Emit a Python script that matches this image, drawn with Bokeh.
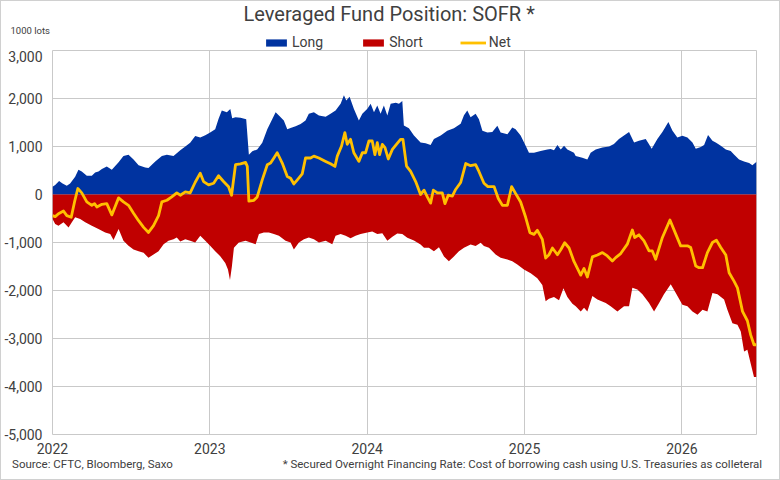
from bokeh.plotting import figure
from bokeh.layouts import column
from bokeh.models import (FixedTicker, NumeralTickFormatter, Legend, LegendItem,
                          Range1d, ColumnDataSource, Title, LinearAxis,
                          InlineStyleSheet)
from bokeh.embed import file_html
from bokeh.resources import INLINE

# Leveraged fund positioning in SOFR futures, thousand lots.
# Dates are given as fractional years.
LONG_T = [2022.000, 2022.017, 2022.042, 2022.064, 2022.091, 2022.112, 2022.144, 2022.165, 2022.186, 2022.218,
          2022.250, 2022.271, 2022.292, 2022.314, 2022.345, 2022.377, 2022.420, 2022.451, 2022.483, 2022.515,
          2022.547, 2022.589, 2022.610, 2022.653, 2022.695, 2022.727, 2022.769, 2022.812, 2022.844, 2022.875,
          2022.907, 2022.939, 2022.971, 2023.002, 2023.034, 2023.055, 2023.076, 2023.108, 2023.130, 2023.142,
          2023.163, 2023.195, 2023.231, 2023.248, 2023.270, 2023.301, 2023.333, 2023.365, 2023.397, 2023.418,
          2023.439, 2023.470, 2023.492, 2023.513, 2023.545, 2023.577, 2023.608, 2023.629, 2023.661, 2023.693,
          2023.736, 2023.767, 2023.799, 2023.831, 2023.852, 2023.867, 2023.888, 2023.915, 2023.947, 2023.969,
          2024.001, 2024.022, 2024.043, 2024.064, 2024.085, 2024.106, 2024.128, 2024.149, 2024.181, 2024.202,
          2024.223, 2024.233, 2024.265, 2024.297, 2024.339, 2024.371, 2024.403, 2024.424, 2024.467, 2024.509,
          2024.551, 2024.594, 2024.615, 2024.636, 2024.657, 2024.689, 2024.710, 2024.732, 2024.764, 2024.795,
          2024.827, 2024.848, 2024.891, 2024.922, 2024.943, 2024.975, 2025.007, 2025.028, 2025.060, 2025.102,
          2025.145, 2025.166, 2025.187, 2025.209, 2025.230, 2025.251, 2025.272, 2025.314, 2025.325, 2025.367,
          2025.399, 2025.420, 2025.452, 2025.495, 2025.537, 2025.568, 2025.600, 2025.632, 2025.664, 2025.696,
          2025.727, 2025.770, 2025.787, 2025.808, 2025.844, 2025.876, 2025.914, 2025.940, 2025.971, 2026.003,
          2026.035, 2026.067, 2026.088, 2026.120, 2026.141, 2026.166, 2026.194, 2026.215, 2026.247, 2026.279,
          2026.310, 2026.331, 2026.363, 2026.395, 2026.427, 2026.448, 2026.474]
LONG_V = [160, 200, 280, 230, 180, 230, 370, 515, 480, 390,
          390, 460, 480, 530, 585, 515, 670, 800, 830, 730,
          610, 565, 550, 690, 800, 830, 800, 920, 1000, 1080,
          1220, 1190, 1235, 1290, 1360, 1575, 1750, 1715, 1780, 1590,
          1610, 1600, 1570, 830, 900, 940, 1080, 1360, 1575, 1715,
          1645, 1540, 1360, 1385, 1420, 1470, 1540, 1680, 1715, 1645,
          1620, 1680, 1750, 1890, 2070, 1960, 2035, 1785, 1540, 1680,
          1785, 1890, 1715, 1855, 1680, 1855, 1645, 1890, 1910, 1890,
          1950, 1440, 1380, 1230, 1085, 1070, 1030, 1155, 1230, 1330,
          1380, 1475, 1650, 1750, 1610, 1680, 1570, 1330, 1290, 1300,
          1430, 1290, 1255, 1395, 1360, 1230, 1015, 870, 870, 905,
          940, 950, 920, 1030, 940, 1015, 940, 870, 800, 765,
          730, 870, 940, 980, 1000, 1050, 1155, 1230, 1300, 1085,
          1120, 1155, 1070, 955, 1155, 1300, 1510, 1330, 1190, 1225,
          1190, 1085, 955, 990, 1030, 1240, 1120, 1085, 1015, 940,
          905, 835, 730, 690, 655, 610, 680]

SHORT_T = [2022.000, 2022.017, 2022.038, 2022.070, 2022.102, 2022.123, 2022.144, 2022.176, 2022.208, 2022.250,
           2022.292, 2022.335, 2022.367, 2022.388, 2022.420, 2022.451, 2022.483, 2022.515, 2022.547, 2022.579,
           2022.610, 2022.642, 2022.674, 2022.706, 2022.737, 2022.769, 2022.790, 2022.812, 2022.844, 2022.875,
           2022.907, 2022.939, 2022.971, 2023.002, 2023.034, 2023.066, 2023.098, 2023.115, 2023.128, 2023.140,
           2023.153, 2023.184, 2023.227, 2023.259, 2023.291, 2023.312, 2023.343, 2023.375, 2023.407, 2023.439,
           2023.481, 2023.513, 2023.534, 2023.566, 2023.598, 2023.629, 2023.661, 2023.693, 2023.736, 2023.778,
           2023.799, 2023.831, 2023.863, 2023.894, 2023.926, 2023.958, 2024.001, 2024.032, 2024.064, 2024.096,
           2024.128, 2024.160, 2024.191, 2024.223, 2024.255, 2024.297, 2024.339, 2024.361, 2024.392, 2024.424,
           2024.456, 2024.488, 2024.519, 2024.551, 2024.583, 2024.615, 2024.657, 2024.689, 2024.721, 2024.742,
           2024.774, 2024.816, 2024.848, 2024.891, 2024.922, 2024.954, 2024.996, 2025.039, 2025.081, 2025.113,
           2025.134, 2025.155, 2025.187, 2025.219, 2025.247, 2025.272, 2025.304, 2025.325, 2025.357, 2025.378,
           2025.399, 2025.431, 2025.463, 2025.516, 2025.547, 2025.590, 2025.632, 2025.664, 2025.685, 2025.717,
           2025.749, 2025.791, 2025.823, 2025.855, 2025.886, 2025.929, 2025.961, 2026.003, 2026.035, 2026.067,
           2026.099, 2026.131, 2026.162, 2026.194, 2026.226, 2026.268, 2026.289, 2026.321, 2026.353, 2026.374,
           2026.395, 2026.416, 2026.437, 2026.458, 2026.474]
SHORT_V = [-510, -615, -650, -580, -685, -580, -475, -510, -580, -650,
           -720, -790, -825, -950, -720, -965, -1070, -1145, -1180, -1215,
           -1320, -1250, -1180, -1035, -965, -930, -895, -980, -930, -965,
           -1000, -860, -965, -1070, -1180, -1285, -1425, -1560, -1780, -1500,
           -1110, -1000, -965, -1000, -1035, -825, -790, -790, -825, -860,
           -965, -1000, -1145, -1000, -930, -895, -930, -1000, -965, -1035,
           -860, -825, -860, -910, -860, -825, -790, -770, -825, -805,
           -965, -880, -810, -825, -900, -960, -1040, -1110, -1110, -1180,
           -1100, -1290, -1390, -1290, -1180, -1110, -1040, -1075, -1005, -1075,
           -1110, -1250, -1320, -1355, -1390, -1460, -1565, -1640, -1745, -1885,
           -2225, -2170, -2135, -2205, -1955, -2135, -2275, -2330, -2435, -2360,
           -2435, -2115, -2190, -2260, -2330, -2435, -2330, -2330, -1945, -1980,
           -2080, -2260, -2435, -2260, -2080, -1870, -2050, -2295, -2330, -2435,
           -2505, -2400, -2435, -2050, -2080, -2190, -2400, -2680, -2715, -2855,
           -3270, -3235, -3520, -3800, -3800]

NET_T = [2022.000, 2022.017, 2022.038, 2022.070, 2022.091, 2022.119, 2022.140, 2022.161, 2022.186, 2022.218,
         2022.250, 2022.267, 2022.282, 2022.314, 2022.345, 2022.377, 2022.420, 2022.451, 2022.483, 2022.515,
         2022.547, 2022.579, 2022.610, 2022.642, 2022.674, 2022.695, 2022.727, 2022.758, 2022.790, 2022.812,
         2022.844, 2022.875, 2022.907, 2022.939, 2022.960, 2022.992, 2023.024, 2023.055, 2023.087, 2023.119,
         2023.138, 2023.163, 2023.195, 2023.227, 2023.238, 2023.248, 2023.280, 2023.301, 2023.333, 2023.365,
         2023.386, 2023.407, 2023.428, 2023.460, 2023.492, 2023.513, 2023.534, 2023.556, 2023.587, 2023.608,
         2023.640, 2023.661, 2023.693, 2023.736, 2023.767, 2023.795, 2023.810, 2023.837, 2023.858, 2023.873,
         2023.894, 2023.915, 2023.947, 2023.969, 2023.990, 2024.011, 2024.032, 2024.049, 2024.064, 2024.079,
         2024.096, 2024.113, 2024.134, 2024.160, 2024.191, 2024.212, 2024.227, 2024.250, 2024.276, 2024.308,
         2024.339, 2024.361, 2024.382, 2024.403, 2024.420, 2024.446, 2024.477, 2024.494, 2024.515, 2024.541,
         2024.562, 2024.594, 2024.626, 2024.657, 2024.689, 2024.710, 2024.742, 2024.767, 2024.806, 2024.833,
         2024.859, 2024.891, 2024.918, 2024.943, 2024.975, 2025.007, 2025.034, 2025.060, 2025.081, 2025.113,
         2025.134, 2025.155, 2025.177, 2025.209, 2025.230, 2025.255, 2025.283, 2025.314, 2025.336, 2025.357,
         2025.378, 2025.399, 2025.431, 2025.463, 2025.495, 2025.526, 2025.558, 2025.579, 2025.611, 2025.653,
         2025.685, 2025.700, 2025.727, 2025.759, 2025.791, 2025.812, 2025.833, 2025.876, 2025.924, 2025.961,
         2025.992, 2026.035, 2026.056, 2026.088, 2026.109, 2026.131, 2026.162, 2026.194, 2026.219, 2026.247,
         2026.279, 2026.300, 2026.331, 2026.353, 2026.385, 2026.416, 2026.437, 2026.458, 2026.474]
NET_V = [-440, -460, -400, -345, -440, -475, -155, 125, 35, -155,
         -225, -190, -260, -205, -190, -425, -70, -155, -225, -390,
         -545, -685, -790, -650, -440, -155, -120, -50, 35, -15,
         55, 35, 255, 445, 270, 200, 235, 390, 270, 160,
         -15, 620, 640, 670, 585, -140, -120, -50, 305, 620,
         655, 760, 870, 655, 375, 340, 220, 305, 430, 760,
         760, 800, 760, 690, 640, 585, 800, 1010, 1290, 1045,
         1150, 870, 690, 870, 870, 1115, 1115, 830, 1080, 830,
         1045, 975, 740, 940, 1065, 1150, 1150, 590, 480, 270,
         0, 90, -50, -180, 90, 35, 35, -190, -15, -35,
         105, 250, 645, 600, 620, 480, 235, 165, 165, -85,
         -225, -225, 165, 20, -155, -475, -795, -830, -745, -935,
         -1325, -1255, -1115, -1255, -1150, -1005, -1115, -1395, -1540, -1680,
         -1540, -1720, -1300, -1260, -1210, -1280, -1385, -1315, -1230, -1035,
         -740, -895, -840, -965, -1175, -1175, -1350, -895, -530, -825,
         -1070, -1070, -1105, -1490, -1525, -1525, -1210, -1000, -950, -1105,
         -1260, -1630, -1805, -1945, -2435, -2630, -2925, -3130, -3130]

YEAR_TICKS = [2022, 2023, 2024, 2025, 2026]
VALUE_TICKS = [-5000, -4000, -3000, -2000, -1000, 0, 1000, 2000, 3000]
SERIES = ["Long", "Short", "Net"]

TITLE = "Leveraged Fund Position: SOFR *"
UNIT = "1000 lots"
SOURCE = "Source: CFTC, Bloomberg, Saxo"
NOTE = "* Secured Overnight Financing Rate: Cost of borrowing cash using U.S. Treasuries as colleteral"

BLUE = "#0033A0"
RED = "#C00000"
GOLD = "#FFC000"
GRID = "#C9C9C9"
TEXT = "#404040"
FONT = "Roboto"

W = 778
HEAD_H = 49
MAIN_H = 478 - HEAD_H
FRAME_W = 704

long_src = ColumnDataSource(dict(t=LONG_T, v=LONG_V, z=[0] * len(LONG_T)))
short_src = ColumnDataSource(dict(t=SHORT_T, v=SHORT_V, z=[0] * len(SHORT_T)))
net_src = ColumnDataSource(dict(t=NET_T, v=NET_V))
x_range = Range1d(2022, 2026.474)


def draw_series(fig):
    """Long and short areas around zero, net position as a line on top."""
    r_long = fig.varea(x="t", y1="z", y2="v", source=long_src, fill_color=BLUE)
    r_short = fig.varea(x="t", y1="v", y2="z", source=short_src, fill_color=RED)
    r_net = fig.line(x="t", y="v", source=net_src, line_color=GOLD,
                     line_width=2.8, line_join="round")
    return [r_long, r_short, r_net]


# ---- header band: title, unit note and legend --------------------------------
# The band shares the time axis; its value window sits above every position,
# so only the legend keys of its series show.
head = figure(width=W, height=HEAD_H, title=None, x_range=x_range,
              y_range=Range1d(5000, 6000), x_axis_type=None, y_axis_type=None,
              output_backend="svg", toolbar_location=None,
              min_border_left=51, min_border_right=23,
              min_border_top=0, min_border_bottom=0,
              outline_line_color=None,
              background_fill_color="white", border_fill_color="white")
head.grid.visible = False
keys = draw_series(head)
legend = Legend(items=[LegendItem(label=s, renderers=[r]) for s, r in zip(SERIES, keys)],
                location=(211, 0), orientation="horizontal",
                glyph_width=26, glyph_height=9, label_height=14,
                label_standoff=3, spacing=37, padding=0, margin=0,
                border_line_color=None, background_fill_alpha=0,
                label_text_font=FONT, label_text_font_size="14px",
                label_text_color=TEXT)
head.add_layout(legend)
head.add_layout(Title(text=UNIT, align="left", offset=-42, standoff=-3,
                      text_font=FONT, text_font_size="9.5px",
                      text_font_style="normal", text_color=TEXT), "above")
head.add_layout(Title(text=TITLE, align="left", offset=191, standoff=-3,
                      text_font=FONT, text_font_size="20px",
                      text_font_style="normal", text_color=TEXT), "above")

# ---- main chart ----------------------------------------------------------------
p = figure(width=W, height=MAIN_H, title=None,
           x_range=x_range, y_range=Range1d(-5000, 3000),
           output_backend="svg", toolbar_location=None,
           min_border_left=51, min_border_right=23,
           min_border_top=0, min_border_bottom=45,
           background_fill_color="white", border_fill_color="white")
draw_series(p)

p.xaxis.ticker = FixedTicker(ticks=YEAR_TICKS)
p.xgrid.ticker = FixedTicker(ticks=YEAR_TICKS)
p.yaxis.ticker = FixedTicker(ticks=VALUE_TICKS)
p.ygrid.ticker = FixedTicker(ticks=VALUE_TICKS)
p.yaxis.formatter = NumeralTickFormatter(format="0,0")
for ax in (p.xaxis[0], p.yaxis[0]):
    ax.axis_line_color = None
    ax.major_tick_line_color = None
    ax.minor_tick_line_color = None
    ax.major_tick_out = 0
    ax.major_tick_in = 0
    ax.minor_tick_out = 0
    ax.major_label_text_font = FONT
    ax.major_label_text_font_size = "14px"
    ax.major_label_text_color = TEXT
p.xaxis.major_label_standoff = 8
p.yaxis.major_label_standoff = 10
p.grid.grid_line_color = GRID
p.grid.grid_line_width = 1
p.outline_line_color = GRID

# footer line under the dates: source on the left, footnote on the right
p.extra_x_ranges = {"foot": Range1d(0, FRAME_W)}
foot = LinearAxis(x_range_name="foot", ticker=FixedTicker(ticks=[40, 470]),
                  major_label_overrides={40: SOURCE, 470: NOTE},
                  axis_line_color=None, major_tick_line_color=None,
                  minor_tick_line_color=None, major_tick_out=0, major_tick_in=0,
                  minor_tick_out=0, major_label_standoff=0,
                  major_label_text_font=FONT, major_label_text_font_size="11.5px",
                  major_label_text_color=TEXT)
p.add_layout(foot, "below")

page = column(head, p, spacing=0)
page.stylesheets = [InlineStyleSheet(css=":host { border: 1px solid #D0D0D0; }")]

open("out.html", "w").write(file_html(page, INLINE))
